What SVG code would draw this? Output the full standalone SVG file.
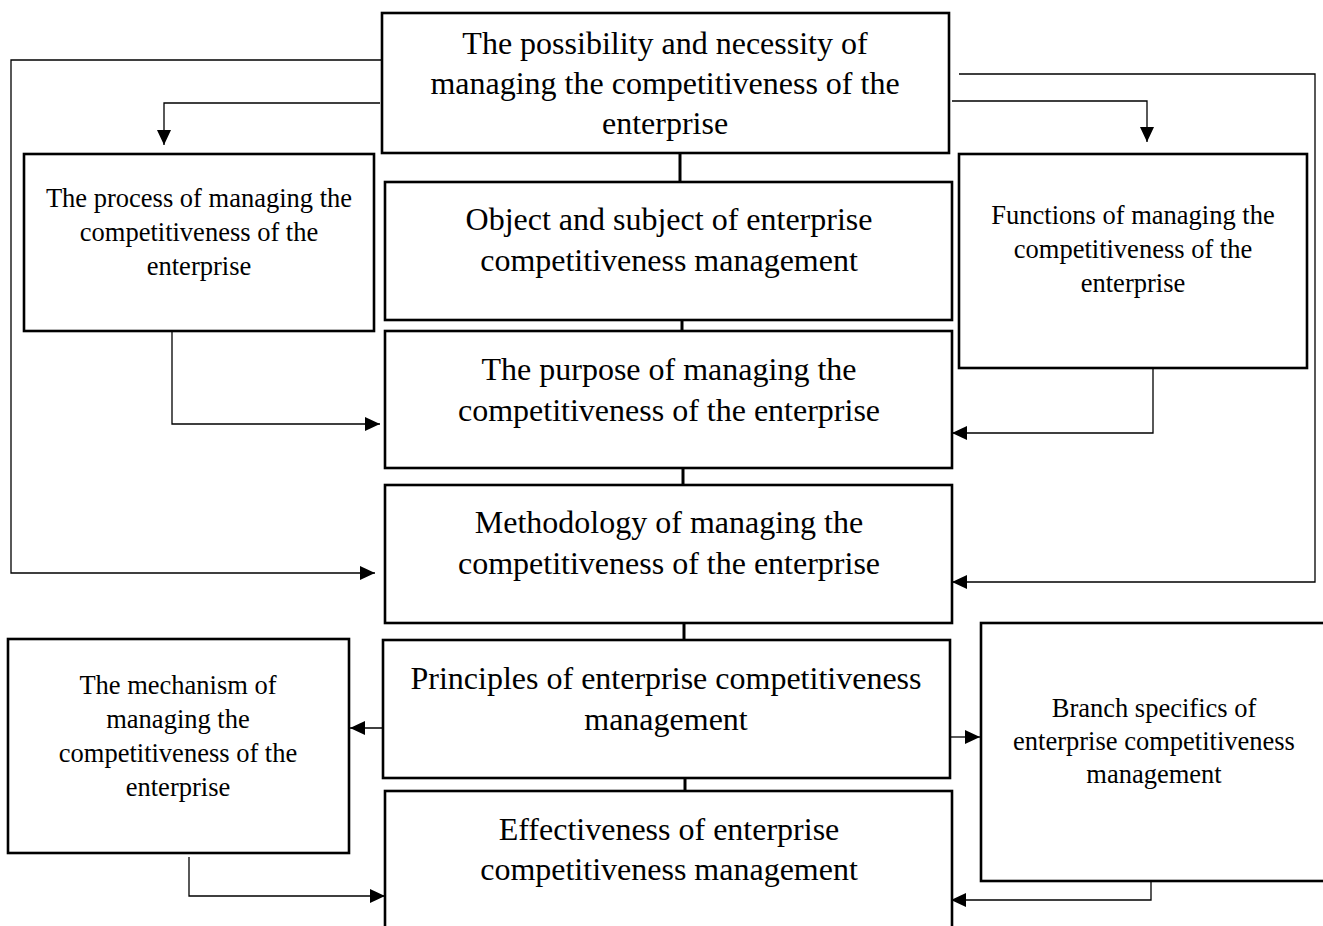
<svg xmlns="http://www.w3.org/2000/svg" width="1323" height="926" viewBox="0 0 1323 926">
<defs>
<style>
.box{fill:#fff;stroke:#000;stroke-width:2.6}
.big{font-family:"Liberation Serif","Times New Roman",serif;font-size:32px;fill:#000;text-anchor:middle}
.small{font-family:"Liberation Serif","Times New Roman",serif;font-size:26.5px;fill:#000;text-anchor:middle}
.conn{fill:none;stroke:#000;stroke-width:1.3}
.stem{fill:none;stroke:#000;stroke-width:3}
</style>
<marker id="arr" markerUnits="userSpaceOnUse" markerWidth="16" markerHeight="16" viewBox="0 0 16 16" refX="15" refY="8" orient="auto">
<path d="M0,1 L15,8 L0,15 Z" fill="#000"/>
</marker>
</defs>
<rect width="1323" height="926" fill="#fff"/>
<g id="connectors">
<line class="stem" x1="680" y1="153" x2="680" y2="182"/>
<line class="stem" x1="682" y1="320" x2="682" y2="331"/>
<line class="stem" x1="683" y1="468" x2="683" y2="485"/>
<line class="stem" x1="684" y1="623" x2="684" y2="640"/>
<line class="stem" x1="685" y1="778" x2="685" y2="791"/>
<polyline class="conn" points="385,60 11,60 11,573 375,573" marker-end="url(#arr)"/>
<polyline class="conn" points="380,103 164,103 164,145" marker-end="url(#arr)"/>
<polyline class="conn" points="959,74 1315,74 1315,582 952,582" marker-end="url(#arr)"/>
<polyline class="conn" points="952,101 1147,101 1147,142" marker-end="url(#arr)"/>
<polyline class="conn" points="172,327 172,424 380,424" marker-end="url(#arr)"/>
<polyline class="conn" points="1153,369 1153,433 952,433" marker-end="url(#arr)"/>
<line class="conn" x1="383" y1="728" x2="350" y2="728" marker-end="url(#arr)"/>
<line class="conn" x1="948" y1="737" x2="980" y2="737" marker-end="url(#arr)"/>
<polyline class="conn" points="189,857 189,896 385,896" marker-end="url(#arr)"/>
<polyline class="conn" points="1151,881 1151,900 951,900" marker-end="url(#arr)"/>
</g>
<g id="n-possibility">
<rect class="box" x="382" y="13" width="567" height="140"/>
<text class="big" x="665" y="54">The possibility and necessity of</text>
<text class="big" x="665" y="94">managing the competitiveness of the</text>
<text class="big" x="665" y="134">enterprise</text>
</g>
<g id="n-object">
<rect class="box" x="385" y="182" width="567" height="138"/>
<text class="big" x="669" y="230">Object and subject of enterprise</text>
<text class="big" x="669" y="271">competitiveness management</text>
</g>
<g id="n-purpose">
<rect class="box" x="385" y="331" width="567" height="137"/>
<text class="big" x="669" y="380">The purpose of managing the</text>
<text class="big" x="669" y="421">competitiveness of the enterprise</text>
</g>
<g id="n-methodology">
<rect class="box" x="385" y="485" width="567" height="138"/>
<text class="big" x="669" y="533">Methodology of managing the</text>
<text class="big" x="669" y="574">competitiveness of the enterprise</text>
</g>
<g id="n-principles">
<rect class="box" x="383" y="640" width="567" height="138"/>
<text class="big" x="666" y="689">Principles of enterprise competitiveness</text>
<text class="big" x="666" y="730">management</text>
</g>
<g id="n-effectiveness">
<rect class="box" x="385" y="791" width="567" height="150"/>
<text class="big" x="669" y="840">Effectiveness of enterprise</text>
<text class="big" x="669" y="880">competitiveness management</text>
</g>
<g id="n-process">
<rect class="box" x="24" y="154" width="350" height="177"/>
<text class="small" x="199" y="207">The process of managing the</text>
<text class="small" x="199" y="241">competitiveness of the</text>
<text class="small" x="199" y="275">enterprise</text>
</g>
<g id="n-functions">
<rect class="box" x="959" y="154" width="348" height="214"/>
<text class="small" x="1133" y="224">Functions of managing the</text>
<text class="small" x="1133" y="258">competitiveness of the</text>
<text class="small" x="1133" y="292">enterprise</text>
</g>
<g id="n-mechanism">
<rect class="box" x="8" y="639" width="341" height="214"/>
<text class="small" x="178" y="694">The mechanism of</text>
<text class="small" x="178" y="728">managing the</text>
<text class="small" x="178" y="762">competitiveness of the</text>
<text class="small" x="178" y="796">enterprise</text>
</g>
<g id="n-branch">
<rect class="box" x="981" y="623" width="346" height="258"/>
<text class="small" x="1154" y="717">Branch specifics of</text>
<text class="small" x="1154" y="750">enterprise competitiveness</text>
<text class="small" x="1154" y="783">management</text>
</g>
</svg>
